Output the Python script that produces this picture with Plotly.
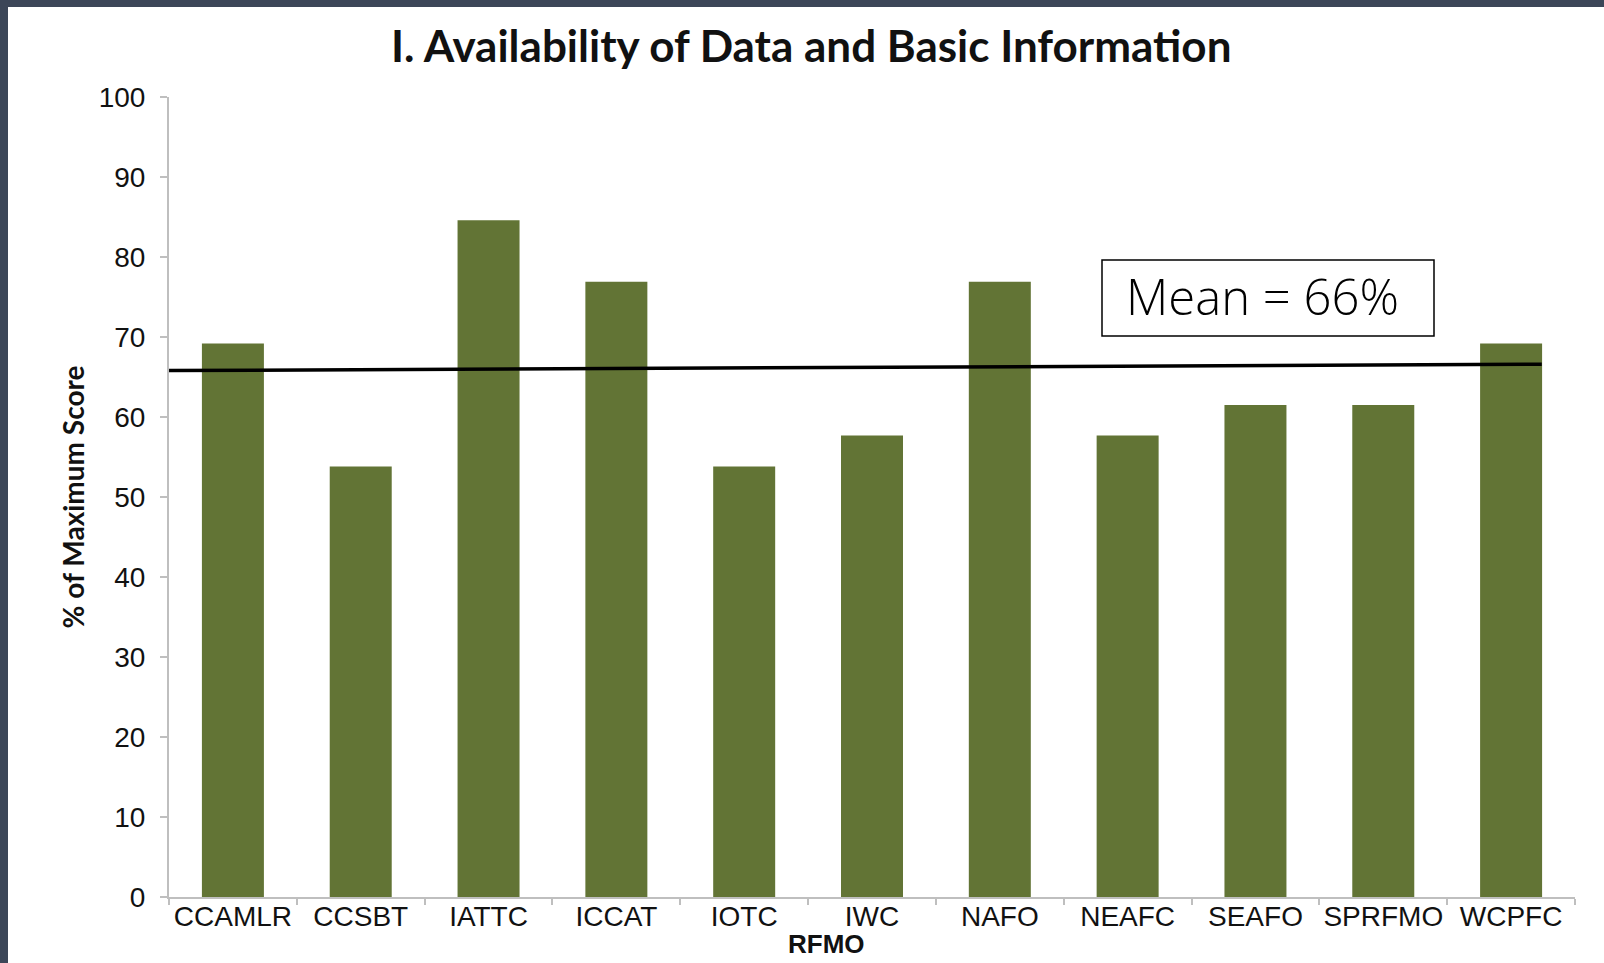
import plotly.graph_objects as go

# ---- data ----
categories = ["CCAMLR", "CCSBT", "IATTC", "ICCAT", "IOTC", "IWC",
              "NAFO", "NEAFC", "SEAFO", "SPRFMO", "WCPFC"]
scores = [69.2, 53.8, 84.6, 76.9, 53.8, 57.7, 76.9, 57.7, 61.5, 61.5, 69.2]
mean_line = [65.8, 66.6]          # mean line, drawn with a slight slope as in the original
mean_label = "Mean = 66%"
y_ticks = [0, 10, 20, 30, 40, 50, 60, 70, 80, 90, 100]

title_text = "I. Availability of Data and Basic Information"
x_title = "RFMO"
y_title = "% of Maximum Score"

W, H = 1604, 963
L, R, T, B = 169, 29, 97, 66
PW, PH = W - L - R, H - T - B


def px_x(px):
    return (px - L) / PW


def px_y(py):
    return (H - B - py) / PH


BAR_COLOR = "#627435"
AXIS_COLOR = "#bfbfbf"
FRAME_COLOR = "#3c4658"
TEXT_FONT = "Liberation Sans, Arial, sans-serif"

fig = go.Figure()
fig.add_trace(go.Bar(
    x=categories, y=scores,
    marker=dict(color=BAR_COLOR, line=dict(width=0)),
    width=0.485,
    showlegend=False,
))

shapes = [
    # mean line
    dict(type="line", xref="x", yref="y",
         x0=-0.5, x1=len(categories) - 1 + 0.24,
         y0=mean_line[0], y1=mean_line[1],
         line=dict(color="black", width=3.5), layer="above"),
    # box around the mean label
    dict(type="rect", xref="paper", yref="paper",
         x0=px_x(1102), x1=px_x(1434), y0=px_y(336), y1=px_y(260),
         fillcolor="white", line=dict(color="black", width=1.5), layer="above"),
    # dark frame (top & left)
    dict(type="rect", xref="paper", yref="paper",
         x0=px_x(0), x1=px_x(W), y0=px_y(7), y1=px_y(0),
         fillcolor=FRAME_COLOR, line=dict(width=0), layer="above"),
    dict(type="rect", xref="paper", yref="paper",
         x0=px_x(0), x1=px_x(8), y0=px_y(H), y1=px_y(0),
         fillcolor=FRAME_COLOR, line=dict(width=0), layer="above"),
]

annotations = [
    dict(text=f"<b>{title_text}</b>", xref="paper", yref="paper",
         x=px_x(811), y=px_y(45), xanchor="center", yanchor="middle",
         showarrow=False, font=dict(family="Lato, Open Sans, sans-serif", size=44, color="#111111")),
    dict(text=mean_label, xref="paper", yref="paper",
         x=px_x(1262), y=px_y(296), xanchor="center", yanchor="middle",
         showarrow=False,
         font=dict(family="Open Sans, Lato, sans-serif", size=49, color="black", weight=300)),
    dict(text=f"<b>{x_title}</b>", xref="paper", yref="paper",
         x=px_x(826), y=px_y(944), xanchor="center", yanchor="middle",
         showarrow=False, font=dict(family=TEXT_FONT, size=26, color="#111111")),
]

fig.update_layout(
    width=W, height=H,
    margin=dict(l=L, r=R, t=T, b=B, autoexpand=False),
    paper_bgcolor="white", plot_bgcolor="white",
    shapes=shapes, annotations=annotations,
    bargap=0.515,
    xaxis=dict(
        type="category", range=[-0.5, len(categories) - 0.5],
        showline=True, linecolor=AXIS_COLOR, linewidth=2,
        ticks="outside", tickson="boundaries", ticklen=6, tickcolor=AXIS_COLOR, tickwidth=2,
        showgrid=False, zeroline=False, tickangle=0,
        tickfont=dict(family=TEXT_FONT, size=28, color="#111111"),
        ticklabelstandoff=-7,
    ),
    yaxis=dict(
        range=[0, 100], tickvals=y_ticks,
        showline=True, linecolor=AXIS_COLOR, linewidth=2,
        ticks="outside", ticklen=7, tickcolor=AXIS_COLOR, tickwidth=2,
        showgrid=False, zeroline=False,
        tickfont=dict(family=TEXT_FONT, size=28, color="#111111"),
        ticklabelstandoff=9,
        title=dict(text=f"<b>{y_title}</b>", standoff=6,
                   font=dict(family="Lato, Open Sans, sans-serif", size=28, color="#111111")),
    ),
)

fig.write_html(
    "out.html",
    config={"displayModeBar": False},
    post_script="document.body.style.margin='0';document.body.style.overflow='hidden';",
)
